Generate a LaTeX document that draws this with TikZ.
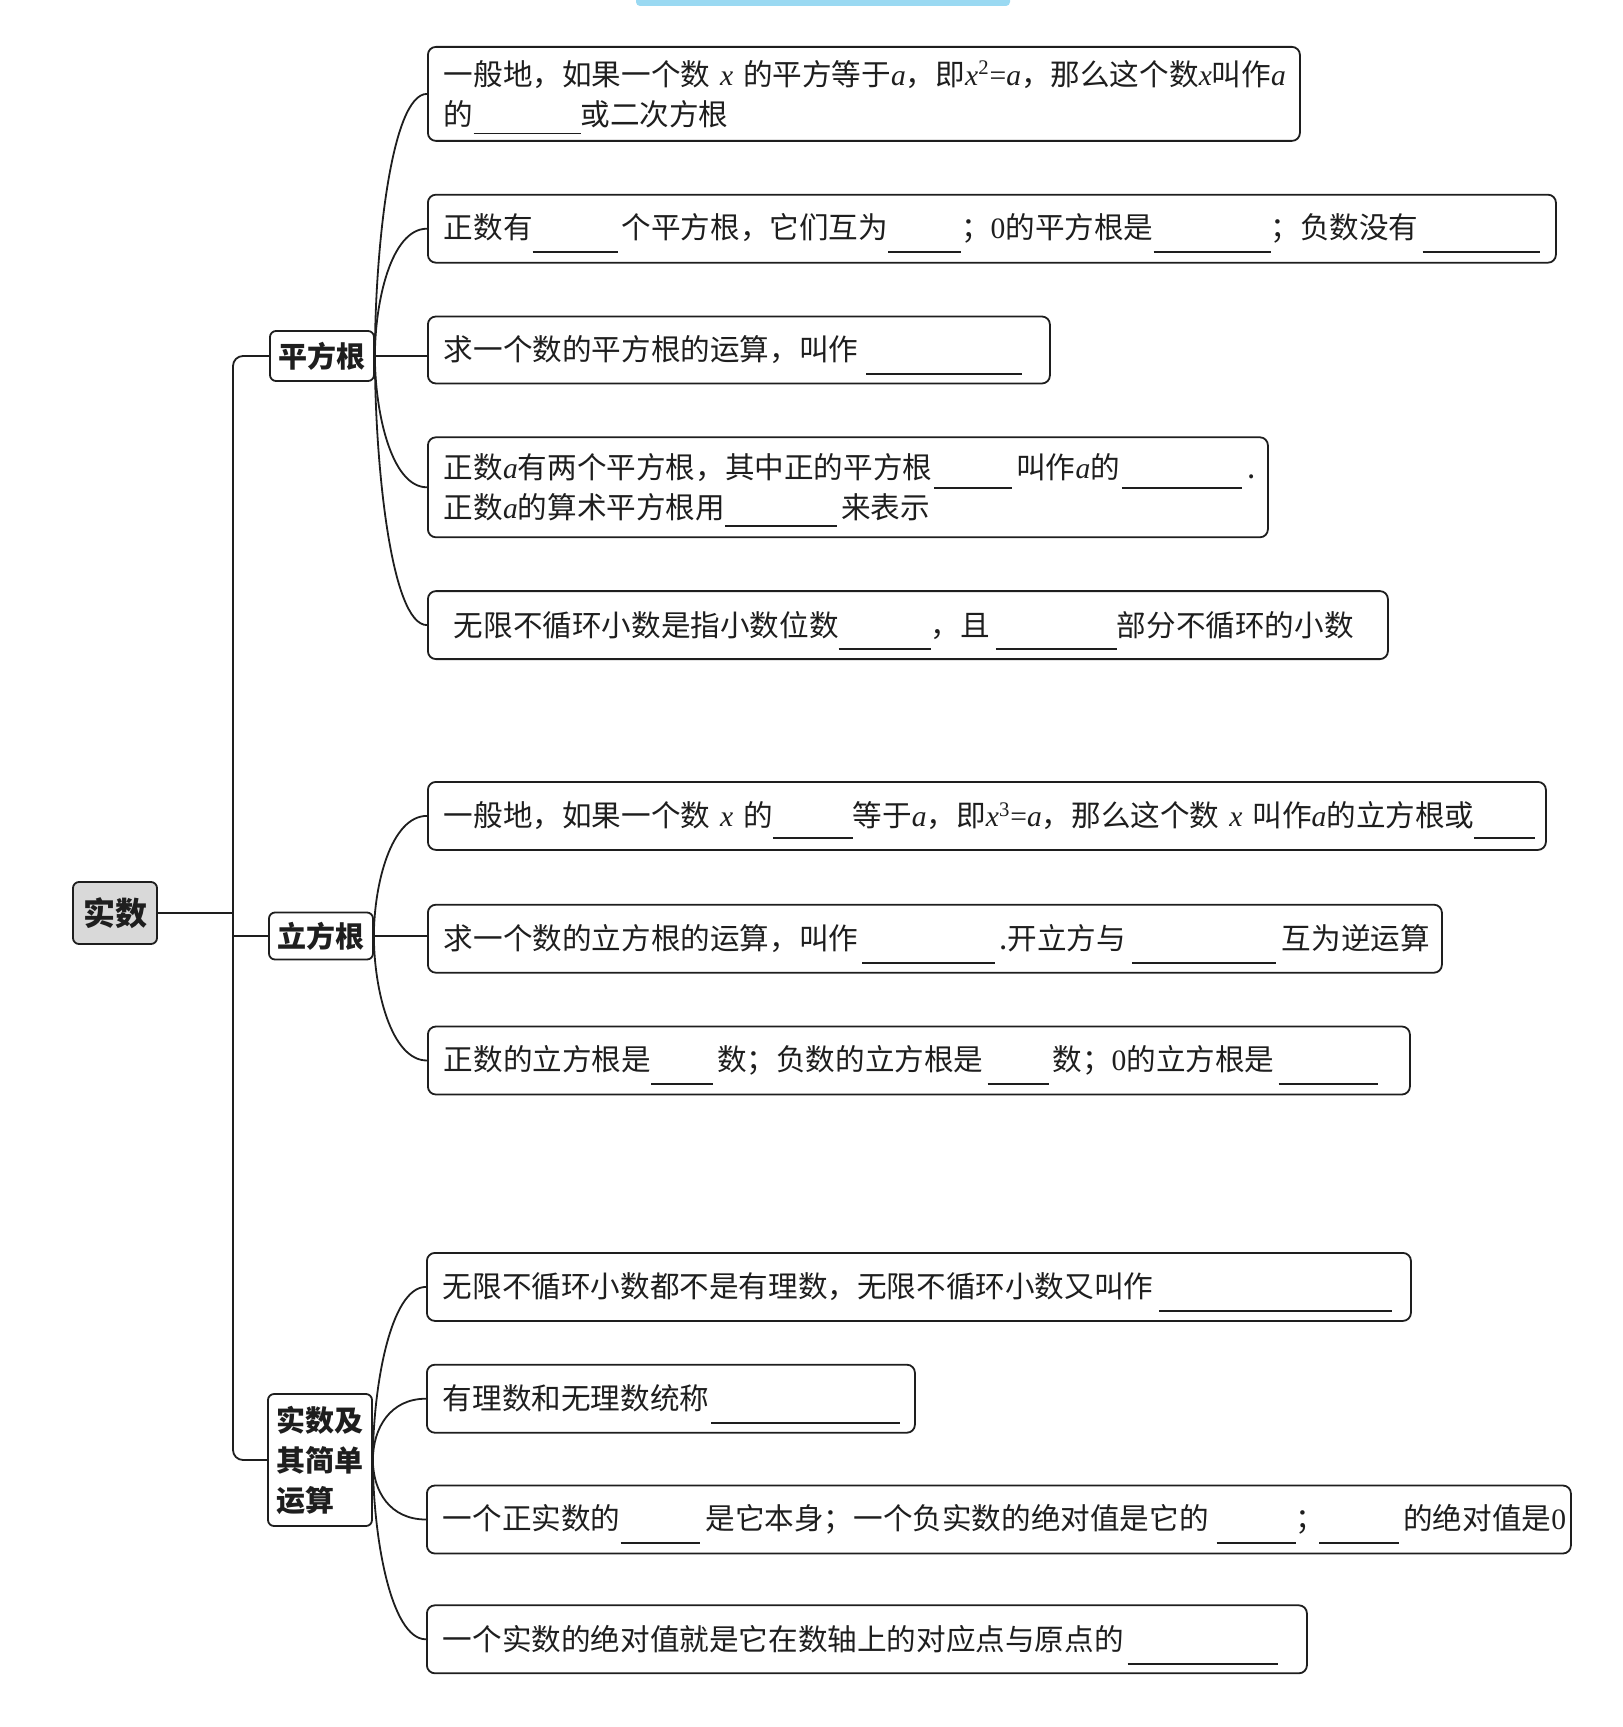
\documentclass[tikz,border=0pt]{standalone}
\usepackage{fontspec}
\usepackage{tikz}
\usetikzlibrary{positioning}
\newfontfamily\cjk{Noto Sans CJK SC}
\newfontfamily\lat{Liberation Serif}
\definecolor{mapInk}{HTML}{1E1E1E}
\definecolor{mapGrey}{HTML}{D9D9D9}
\definecolor{mapCyan}{HTML}{9AD9F2}
\newcommand{\blank}[2][7pt]{\raisebox{-#1}[0pt][0pt]{\rule{#2}{0.8pt}}}
\newcommand{\va}[1]{{\lat\itshape #1}}
\newcommand{\vn}[1]{{\lat #1}}
\tikzset{
  leaf/.style={rounded corners=4pt,draw=mapInk,line width=0.9pt,fill=white,
               text width=#1,align=left,inner xsep=8pt,minimum height=34pt,
               text=mapInk,font=\cjk\fontsize{14.8pt}{20pt}\selectfont},
  topic/.style={rounded corners=3pt,draw=mapInk,line width=0.9pt,fill=white,
                inner sep=4pt,align=left,text=mapInk,minimum width=52pt,
                font=\cjk\bfseries\fontsize{14.5pt}{20pt}\selectfont},
  hub/.style={topic,fill=mapGrey,font=\cjk\bfseries\fontsize{16pt}{20pt}\selectfont},
  link/.style={draw=mapInk,line width=0.9pt},
  rise/.style={link,out=90,in=180,in distance=18pt},
  fall/.style={link,out=-90,in=180,in distance=18pt},
}

\begin{document}
\begin{tikzpicture}[x=0.5pt,y=0.5pt]
  \useasboundingbox (0,0) rectangle (1622,-1727);
  \fill[mapCyan,rounded corners=2pt] (636,8) rectangle (1010,-6);

  % centre and the three topics
  \node[hub,minimum width=42pt,minimum height=31pt] (shishu) at (115,-913) {实数};
  \node[topic,minimum height=25pt] (pfg) at (322,-356) {平方根};
  \node[topic,minimum height=23.5pt] (lfg) at (321,-936) {立方根};
  \node[topic,minimum height=66pt] (ssj) at (320,-1460) {实数及\\其简单\\运算};

  \coordinate (trunk) at (233,-913);
  \draw[link,rounded corners=5pt] (pfg.west) -| (trunk) |- (ssj.west);
  \draw[link] (shishu.east) -- (trunk);
  \draw[link] (lfg.west) -- (lfg.west -| trunk);

  % square roots
  \node[leaf=420pt,minimum height=47pt,anchor=north west] (p1) at (427,-46) {\mbox{一般地，如果一个数 \va{x} 的平方等于\va{a}，即\va{x}\textsuperscript{\vn{2}}\vn{=}\va{a}，那么这个数\va{x}叫作\va{a}}\\的\blank[4.5pt]{53.5pt}或二次方根};
  \node[leaf=548pt,below=26pt of p1.south west,anchor=north west] (p2) {\mbox{正数有\blank{42.5pt}\hspace{2pt}个平方根，它们互为\blank{36.5pt}；\vn{0}的平方根是\blank{58.5pt}；负数没有\hspace{2pt}\blank{58.5pt}}};
  \node[leaf=295pt,minimum height=33.5pt,below=26pt of p2.south west,anchor=north west] (p3) {\mbox{求一个数的平方根的运算，叫作\hspace{4pt}\blank{78pt}}};
  \node[leaf=404pt,minimum height=50pt,below=26pt of p3.south west,anchor=north west] (p4) {\mbox{正数\va{a}有两个平方根，其中正的平方根\hspace{1pt}\blank[5.2pt]{39pt}\hspace{2pt}叫作\va{a}的\hspace{1pt}\blank[5.2pt]{60pt}\hspace{3pt}.}\\\mbox{正数\va{a}的算术平方根用\blank[4.2pt]{56pt}\hspace{2pt}来表示}};
  \node[leaf=464pt,below=26pt of p4.south west,anchor=north west] (p5) {\mbox{\hspace*{5pt}无限不循环小数是指小数位数\blank{46pt}，且\hspace{3pt}\blank{60.5pt}部分不循环的小数}};

  \draw[rise] (pfg.east) to (p1.west);
  \draw[rise] (pfg.east) to (p2.west);
  \draw[link] (pfg.east) -- (pfg.east -| p3.west);
  \draw[fall] (pfg.east) to (p4.west);
  \draw[fall] (pfg.east) to (p5.west);

  % cube roots
  \node[leaf=543pt,anchor=north west] (c1) at (427,-781) {\mbox{一般地，如果一个数 \va{x} 的\blank[6pt]{40pt}等于\va{a}，即\va{x}\textsuperscript{\vn{3}}\vn{=}\va{a}，那么这个数 \va{x} 叫作\va{a}的立方根或\blank[6pt]{30.5pt}}};
  \node[leaf=491pt,below=26.5pt of c1.south west,anchor=north west] (c2) {\mbox{求一个数的立方根的运算，叫作\hspace{2pt}\blank{66.5pt}\hspace{2pt}.开立方与\hspace{3pt}\blank{72pt}\hspace{3pt}互为逆运算}};
  \node[leaf=475pt,below=26pt of c2.south west,anchor=north west] (c3) {\mbox{正数的立方根是\blank{31pt}\hspace{2pt}数；负数的立方根是\hspace{2pt}\blank{30.5pt}\hspace{2pt}数；\vn{0}的立方根是\hspace{2pt}\blank{49.5pt}}};

  \draw[rise] (lfg.east) to (c1.west);
  \draw[link] (lfg.east) -- (lfg.east -| c2.west);
  \draw[fall] (lfg.east) to (c3.west);

  % real numbers
  \node[leaf=476pt,anchor=north west] (r1) at (426,-1252) {\mbox{无限不循环小数都不是有理数，无限不循环小数又叫作\hspace{3pt}\blank{116.5pt}}};
  \node[leaf=228pt,below=21pt of r1.south west,anchor=north west] (r2) {\mbox{有理数和无理数统称\hspace{1pt}\blank{94.5pt}}};
  \node[leaf=556pt,below=25.5pt of r2.south west,anchor=north west] (r3) {\mbox{一个正实数的\blank{39.5pt}\hspace{3pt}是它本身；一个负实数的绝对值是它的\hspace{4pt}\blank{39.5pt}；\hspace{-3pt}\blank{40pt}\hspace{2pt}的绝对值是\vn{0}}};
  \node[leaf=424pt,below=25pt of r3.south west,anchor=north west] (r4) {\mbox{一个实数的绝对值就是它在数轴上的对应点与原点的\hspace{2pt}\blank{75pt}}};

  \draw[rise] (ssj.east) to (r1.west);
  \draw[rise] (ssj.east) to (r2.west);
  \draw[fall] (ssj.east) to (r3.west);
  \draw[fall] (ssj.east) to (r4.west);
\end{tikzpicture}
\end{document}
